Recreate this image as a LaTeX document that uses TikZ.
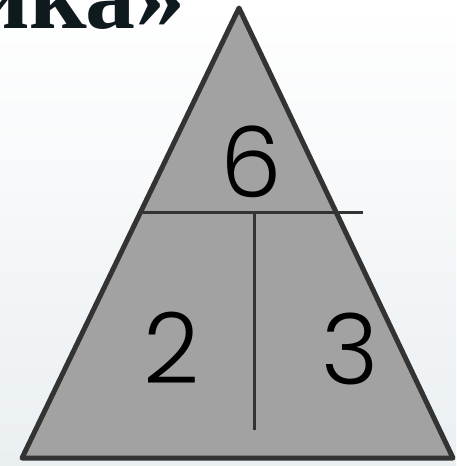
\documentclass[tikz,border=0pt]{standalone}
\usepackage{fontspec}
\setmainfont{Poppins Light}
\newfontfamily\titlefont{Liberation Serif}
\definecolor{bgbottom}{HTML}{EAEFF2}
\definecolor{trifill}{HTML}{A2A2A2}
\definecolor{edge}{HTML}{333333}
\definecolor{titleink}{HTML}{0F1A1F}
\tikzset{
  tri/.style={fill=trifill, draw=edge, line width=5pt, line join=round},
  divider/.style={draw=edge, line width=3pt},
  digit/.style={inner sep=0pt, font=\fontsize{98}{100}\selectfont, text=black},
  titletext/.style={inner sep=0pt, font=\titlefont\bfseries\fontsize{100}{110}\selectfont, text=titleink}
}
\begin{document}
\begin{tikzpicture}[x=1pt,y=-1pt]
\useasboundingbox (0,0) rectangle (456,466);
\clip (0,0) rectangle (456,466);
\shade[top color=white, bottom color=bgbottom] (0,0) rectangle (456,466);
\coordinate (A) at (239,8);
\coordinate (B) at (22,458);
\coordinate (C) at (453,458);
\path[tri] (A) -- (B) -- (C) -- cycle;
\coordinate (H1) at (143,212);
\coordinate (H2) at (363,212);
\draw[divider] (H1) -- (H2);
\coordinate (V1) at (254,212);
\coordinate (V2) at (254,430);
\draw[divider] (V1) -- (V2);
\node[digit] (six) at (251,162) {6};
\node[digit] (two) at (172,348) {2};
\node[digit] (three) at (350,349) {3};
\node[titletext, anchor=base east] (title) at (186,28) {ика»};
\end{tikzpicture}
\end{document}
